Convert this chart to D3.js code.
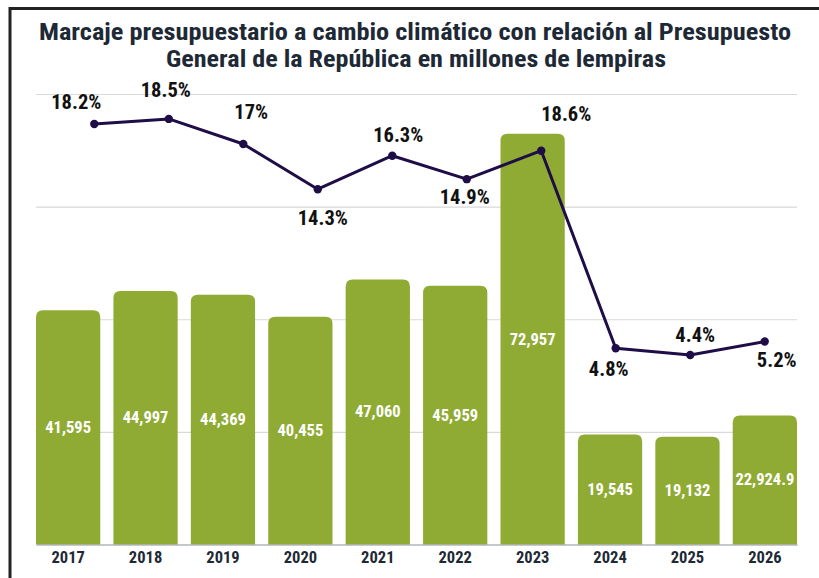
<!DOCTYPE html>
<html>
<head>
<meta charset="utf-8">
<script src="https://cdn.jsdelivr.net/npm/d3@7"></script>
<style>
  html, body { margin: 0; padding: 0; background: #fff; }
  svg { display: block; }
  text { font-family: "Liberation Sans Narrow", "Roboto Condensed", "Roboto", sans-serif; font-weight: bold; }
</style>
</head>
<body>
<div id="canvas"></div>
<script>
// data
var years = ["2017", "2018", "2019", "2020", "2021", "2022", "2023", "2024", "2025", "2026"];
var budget = [41595, 44997, 44369, 40455, 47060, 45959, 72957, 19545, 19132, 22924.9];
// share of the general budget (where the line is drawn) and the printed labels
var share = [18.2, 18.5, 17, 14.3, 16.3, 14.9, 16.6, 4.8, 4.4, 5.2];
var shareLabels = ["18.2%", "18.5%", "17%", "14.3%", "16.3%", "14.9%", "18.6%", "4.8%", "4.4%", "5.2%"];
var gridTicks = [20000, 40000, 60000, 80000];

// where each % label sits relative to its point
var labelOffsets = [[-18, -22], [-3, -29], [8, -32], [5, 29], [6, -21], [-2, 18], [25, -37], [-7, 21], [5, -20], [12, 18]];

var W = 819, H = 578;
var plotLeft = 36, plotRight = 797, plotTop = 94, plotBottom = 544.5;

var svg = d3.select("#canvas")
  .append("svg")
  .attr("width", W)
  .attr("height", H);

// frame (top and left edge only are visible)
svg.append("rect")
  .attr("x", 10)
  .attr("y", 8.5)
  .attr("width", W + 20)
  .attr("height", H + 20)
  .attr("fill", "none")
  .attr("stroke", "#222")
  .attr("stroke-width", 3);

// title
var title = svg.append("text")
  .attr("text-anchor", "middle")
  .attr("fill", "#1e2936")
  .style("font-size", "23px");
title.append("tspan")
  .attr("x", 415).attr("y", 39.5)
  .attr("textLength", 752).attr("lengthAdjust", "spacingAndGlyphs")
  .text("Marcaje presupuestario a cambio climático con relación al Presupuesto");
title.append("tspan")
  .attr("x", 416).attr("y", 66.5)
  .attr("textLength", 500).attr("lengthAdjust", "spacingAndGlyphs")
  .text("General de la República en millones de lempiras");

// scales
var x = d3.scaleBand().domain(years).range([plotLeft, plotRight]).paddingInner(0.17).paddingOuter(0);
var y = d3.scaleLinear().domain([0, 80000]).range([plotBottom, plotTop]);
var xLine = d3.scalePoint().domain(years).range([94.3, 764.7]);
var yPct = d3.scaleLinear().domain([0, 20]).range([428.6, 93.8]);

// gridlines
var grid = svg.append("g")
  .attr("transform", "translate(" + plotLeft + ",0)")
  .call(d3.axisLeft(y).tickValues(gridTicks).tickSize(-(plotRight - plotLeft)).tickFormat(""));
grid.select(".domain").remove();
grid.selectAll("line").attr("stroke", "#d9d9d9").attr("stroke-width", 1.2);

// bars with rounded top corners
function topRounded(x0, y0, w, h, r) {
  r = Math.min(r, h, w / 2);
  return "M" + x0 + "," + (y0 + h) +
    "V" + (y0 + r) +
    "Q" + x0 + "," + y0 + " " + (x0 + r) + "," + y0 +
    "H" + (x0 + w - r) +
    "Q" + (x0 + w) + "," + y0 + " " + (x0 + w) + "," + (y0 + r) +
    "V" + (y0 + h) + "Z";
}

svg.append("g")
  .selectAll("path")
  .data(budget)
  .enter()
  .append("path")
  .attr("fill", "#8fab34")
  .attr("d", (d, i) => topRounded(x(years[i]), y(d), x.bandwidth(), plotBottom - y(d), 7));

// bar values
var fmt = d3.format(",");
svg.append("g")
  .selectAll("text")
  .data(budget)
  .enter()
  .append("text")
  .attr("x", (d, i) => x(years[i]) + x.bandwidth() / 2)
  .attr("y", d => (y(d) + plotBottom) / 2)
  .attr("text-anchor", "middle")
  .attr("dominant-baseline", "central")
  .attr("fill", "#fff")
  .style("font-size", "16.5px")
  .text(d => fmt(d));

// x axis
var xAxis = svg.append("g")
  .attr("transform", "translate(0," + plotBottom + ")")
  .call(d3.axisBottom(x).tickSize(0).tickPadding(7));
xAxis.select(".domain").attr("stroke", "#8c919a").attr("stroke-width", 1.2);
xAxis.selectAll("text")
  .attr("fill", "#1e2936")
  .style("font-size", "16.5px")
  .style("font-family", null);

// share line
var line = d3.line()
  .x((d, i) => xLine(years[i]))
  .y(d => yPct(d));

svg.append("path")
  .datum(share)
  .attr("fill", "none")
  .attr("stroke", "#1f0d47")
  .attr("stroke-width", 3)
  .attr("stroke-linejoin", "round")
  .attr("d", line);

svg.append("g")
  .selectAll("circle")
  .data(share)
  .enter()
  .append("circle")
  .attr("cx", (d, i) => xLine(years[i]))
  .attr("cy", d => yPct(d))
  .attr("r", 4.2)
  .attr("fill", "#1f0d47");

svg.append("g")
  .selectAll("text")
  .data(share)
  .enter()
  .append("text")
  .attr("x", (d, i) => xLine(years[i]) + labelOffsets[i][0])
  .attr("y", (d, i) => yPct(d) + labelOffsets[i][1])
  .attr("text-anchor", "middle")
  .attr("dominant-baseline", "central")
  .attr("fill", "#111")
  .style("font-size", "20.5px")
  .text((d, i) => shareLabels[i]);
</script>
</body>
</html>
